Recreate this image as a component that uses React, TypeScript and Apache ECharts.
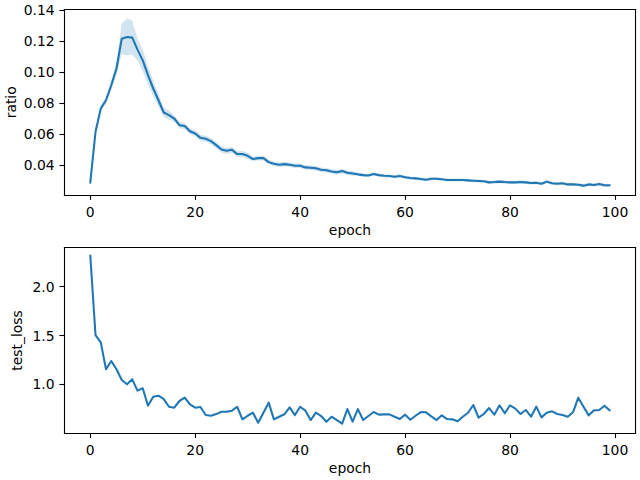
import React, { useEffect, useRef } from "react";
import * as echarts from "echarts";

const epochs: number[] = Array.from({ length: 100 }, (_, i) => i);

const ratio: number[] = [
  0.0286, 0.0615, 0.0766, 0.0819, 0.0916, 0.1024, 0.1217, 0.1228, 0.1224, 0.1146,
  0.1077, 0.0981, 0.0895, 0.0819, 0.074, 0.0723, 0.0701, 0.0658, 0.0652, 0.0619,
  0.0604, 0.0576, 0.057, 0.0555, 0.0529, 0.0501, 0.0492, 0.0499, 0.0471, 0.0471,
  0.046, 0.0439, 0.0445, 0.0445, 0.0419, 0.0408, 0.0402, 0.0406, 0.0402, 0.0396,
  0.0396, 0.0385, 0.0383, 0.0379, 0.037, 0.0366, 0.0359, 0.0353, 0.0361, 0.035,
  0.0346, 0.034, 0.0335, 0.0333, 0.0342, 0.0335, 0.0331, 0.0329, 0.0325, 0.0329,
  0.0321, 0.0316, 0.0314, 0.031, 0.0305, 0.0312, 0.0312, 0.0308, 0.0303, 0.0303,
  0.0303, 0.0303, 0.0301, 0.0299, 0.0297, 0.0295, 0.0288, 0.029, 0.0293, 0.029,
  0.0288, 0.0288, 0.029, 0.0288, 0.0284, 0.0286, 0.0279, 0.0293, 0.0282, 0.0279,
  0.0282, 0.0275, 0.0275, 0.0273, 0.0267, 0.0275, 0.0271, 0.0277, 0.0269, 0.0269,
];

// half-width of the confidence band around ratio
const ratioCi: number[] = [
  0.001, 0.002, 0.002, 0.002, 0.003, 0.004, 0.010, 0.012, 0.011, 0.007,
  0.007, 0.006, 0.005, 0.004, 0.003, 0.003, 0.002, 0.002, 0.002, 0.002,
  0.002, 0.002, 0.002, 0.002, 0.002, 0.002, 0.002, 0.002, 0.002, 0.002,
  0.002, 0.0015, 0.0015, 0.0015, 0.0015, 0.0015, 0.0015, 0.0015, 0.0015, 0.0015,
  0.0015, 0.0015, 0.0015, 0.0015, 0.0015, 0.0015, 0.0015, 0.0015, 0.0015, 0.0015,
  0.0015, 0.001, 0.001, 0.001, 0.001, 0.001, 0.001, 0.001, 0.001, 0.001,
  0.001, 0.001, 0.001, 0.001, 0.001, 0.001, 0.001, 0.001, 0.001, 0.001,
  0.001, 0.001, 0.001, 0.001, 0.001, 0.001, 0.001, 0.001, 0.001, 0.001,
  0.001, 0.001, 0.001, 0.001, 0.001, 0.001, 0.001, 0.001, 0.001, 0.001,
  0.001, 0.001, 0.001, 0.001, 0.001, 0.001, 0.001, 0.001, 0.001, 0.001,
];

const testLoss: number[] = [
  2.32, 1.505, 1.43, 1.154, 1.239, 1.154, 1.044, 1.0, 1.051, 0.935,
  0.959, 0.781, 0.873, 0.883, 0.849, 0.77, 0.76, 0.829, 0.863, 0.795,
  0.76, 0.767, 0.685, 0.678, 0.695, 0.719, 0.719, 0.73, 0.77, 0.641,
  0.678, 0.709, 0.607, 0.709, 0.812, 0.641, 0.668, 0.693, 0.764, 0.685,
  0.77, 0.73, 0.634, 0.709, 0.675, 0.617, 0.668, 0.634, 0.597, 0.746,
  0.617, 0.746, 0.634, 0.675, 0.716, 0.689, 0.692, 0.692, 0.668, 0.644,
  0.689, 0.637, 0.678, 0.716, 0.713, 0.672, 0.634, 0.682, 0.644, 0.641,
  0.621, 0.668, 0.709, 0.788, 0.658, 0.696, 0.757, 0.689, 0.785, 0.703,
  0.785, 0.751, 0.696, 0.737, 0.668, 0.771, 0.661, 0.709, 0.723, 0.696,
  0.686, 0.668, 0.713, 0.863, 0.771, 0.682, 0.733, 0.737, 0.781, 0.733,
];

const xTicks = [0, 20, 40, 60, 80, 100];
const ratioTicks = [0.04, 0.06, 0.08, 0.1, 0.12, 0.14];
const lossTicks = [1.0, 1.5, 2.0];

const BLUE = "#1f77b4";
const FONT = "DejaVu Sans";
const FS = 13.9;

const tickStyle = { color: "#000", width: 1.1 };
const labelBase = { margin: 9.7, color: "#000", fontFamily: FONT, fontSize: FS };
const nameStyle = { color: "#000", fontFamily: FONT, fontSize: FS };

function App() {
  const ref = useRef<HTMLDivElement>(null);
  useEffect(() => {
    if (!ref.current) return;
    const chart = echarts.init(ref.current, null, { renderer: "svg" });
    const upper = ratio.map((v, i) => v + ratioCi[i]);
    const lower = ratio.map((v, i) => v - ratioCi[i]);

    const xMain = (gridIndex: number) => ({
      type: "value",
      gridIndex,
      position: "bottom",
      min: -4.95,
      max: 103.95,
      name: "epoch",
      nameLocation: "middle",
      nameGap: 28,
      nameMoveOverlap: false,
      nameTextStyle: nameStyle,
      axisLine: { show: true, onZero: false, lineStyle: tickStyle },
      splitLine: { show: false },
      axisTick: { show: true, inside: false, length: 4.86, lineStyle: tickStyle, customValues: xTicks },
      axisLabel: { ...labelBase, customValues: xTicks, formatter: (v: number) => String(Math.round(v)) },
    });
    const xTop = (gridIndex: number) => ({
      type: "value",
      gridIndex,
      position: "top",
      min: -4.95,
      max: 103.95,
      axisLine: { show: true, onZero: false, lineStyle: tickStyle },
      splitLine: { show: false },
      axisTick: { show: false },
      axisLabel: { show: false },
    });
    const yRight = (gridIndex: number, min: number, max: number) => ({
      type: "value",
      gridIndex,
      position: "right",
      min,
      max,
      axisLine: { show: true, onZero: false, lineStyle: tickStyle },
      splitLine: { show: false },
      axisTick: { show: false },
      axisLabel: { show: false },
    });

    const gridBase = {
      left: 64.3,
      width: 571.4,
      containLabel: false,
      outerBoundsMode: "none",
      show: false,
    };

    const option: any = {
      animation: false,
      backgroundColor: "#fff",
      grid: [
        { ...gridBase, top: 9.6, height: 185.4 },
        { ...gridBase, top: 247.7, height: 185.6 },
      ],
      xAxis: [xMain(0), xMain(1), xTop(0), xTop(1)],
      yAxis: [
        {
          type: "value",
          gridIndex: 0,
          position: "left",
          min: 0.02065,
          max: 0.1405,
          name: "ratio",
          nameLocation: "middle",
          nameGap: 46,
          nameMoveOverlap: false,
          nameTextStyle: nameStyle,
          axisLine: { show: true, onZero: false, lineStyle: tickStyle },
          splitLine: { show: false },
          axisTick: { show: true, length: 4.86, lineStyle: tickStyle, customValues: ratioTicks },
          axisLabel: { ...labelBase, customValues: ratioTicks, formatter: (v: number) => v.toFixed(2) },
        },
        {
          type: "value",
          gridIndex: 1,
          position: "left",
          min: 0.498,
          max: 2.4,
          name: "test_loss",
          nameLocation: "middle",
          nameGap: 40,
          nameMoveOverlap: false,
          nameTextStyle: nameStyle,
          axisLine: { show: true, onZero: false, lineStyle: tickStyle },
          splitLine: { show: false },
          axisTick: { show: true, length: 4.86, lineStyle: tickStyle, customValues: lossTicks },
          axisLabel: { ...labelBase, customValues: lossTicks, formatter: (v: number) => v.toFixed(1) },
        },
        yRight(0, 0.02065, 0.1405),
        yRight(1, 0.498, 2.4),
      ],
      series: [
        {
          type: "custom",
          xAxisIndex: 0,
          yAxisIndex: 0,
          data: [[0, ratio[0]]],
          z: 1,
          silent: true,
          renderItem: (params: any, api: any) => {
            const pts: number[][] = [];
            for (let i = 0; i < epochs.length; i++) pts.push(api.coord([epochs[i], upper[i]]));
            for (let i = epochs.length - 1; i >= 0; i--) pts.push(api.coord([epochs[i], lower[i]]));
            return {
              type: "polygon",
              shape: { points: pts },
              style: { fill: "rgba(31,119,180,0.2)", stroke: "none" },
            };
          },
        },
        {
          type: "line",
          xAxisIndex: 0,
          yAxisIndex: 0,
          z: 2,
          showSymbol: false,
          symbol: "none",
          data: epochs.map((e, i) => [e, ratio[i]]),
          lineStyle: { color: BLUE, width: 2.08, join: "round", cap: "round" },
          itemStyle: { color: BLUE },
        },
        {
          type: "line",
          xAxisIndex: 1,
          yAxisIndex: 1,
          z: 2,
          showSymbol: false,
          symbol: "none",
          data: epochs.map((e, i) => [e, testLoss[i]]),
          lineStyle: { color: BLUE, width: 2.08, join: "round", cap: "round" },
          itemStyle: { color: BLUE },
        },
      ],
    };
    chart.setOption(option);
    return () => chart.dispose();
  }, []);
  return (
    <div
      ref={ref}
      style={{ position: "absolute", left: 0, top: 0, width: 640, height: 480, background: "#fff" }}
    />
  );
}

export default App;
